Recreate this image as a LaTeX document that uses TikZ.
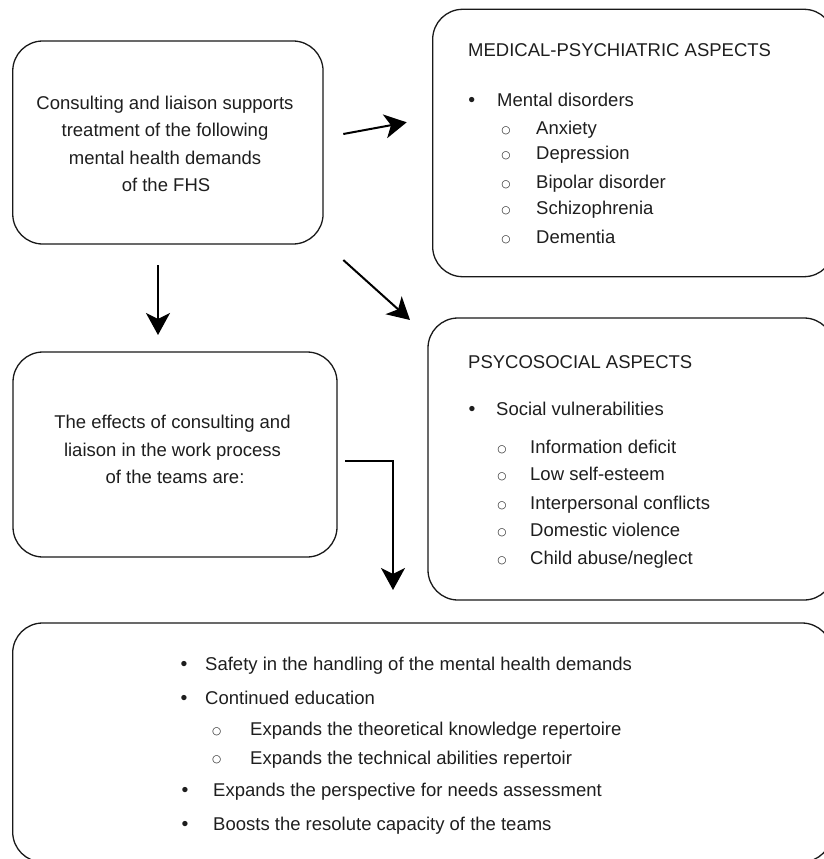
\documentclass[tikz,border=0pt]{standalone}
\usepackage{fontspec}
\setmainfont{Liberation Sans}
\newfontfamily\symf{DejaVu Sans}
\usetikzlibrary{arrows.meta}
\definecolor{txtc}{RGB}{30,30,30}
\definecolor{linec}{RGB}{25,25,25}
\begin{document}
\begin{tikzpicture}[x=1pt,y=-1pt,
  box/.style={draw=linec, line width=1.3pt, rounded corners=30pt, inner sep=0pt, outer sep=0pt},
  t/.style={font=\fontsize{18.5}{22}\selectfont, text=txtc, inner sep=0pt, anchor=base west},
  tc/.style={t, anchor=base},
  bul/.style={tc, font=\fontsize{19.5}{22}\selectfont},
  subb/.style={tc, font=\fontsize{10.5}{12}\selectfont\symf},
  arr/.style={line width=2pt, draw=black, -{Stealth[length=22pt,width=24pt,inset=6pt]}}
]
\useasboundingbox (0,0) rectangle (824,859);
\clip (0,0) rectangle (824,859);

% boxes
\node[box, minimum width=310.3pt, minimum height=203pt] (b1) at (167.9,142.5) {};
\node[box, minimum width=401.3pt, minimum height=267.4pt] (b2) at (633.35,143) {};
\node[box, minimum width=324pt, minimum height=205pt] (b3) at (175,454.5) {};
\node[box, minimum width=406pt, minimum height=282pt] (b4) at (631,459) {};
\node[box, minimum width=819.3pt, minimum height=239pt] (b5) at (422.35,742.5) {};

% top-left text
\node[tc] (c1) at (165,109.5) {Consulting and liaison supports};
\node[tc] (c2) at (165,136.8) {treatment of the following};
\node[tc] (c3) at (165,164.1) {mental health demands};
\node[tc] (c4) at (166,191.4) {of the FHS};

% middle-left text
\node[tc] (e1) at (172.5,428.5) {The effects of consulting and};
\node[tc] (e2) at (172.5,456) {liaison in the work process};
\node[tc] (e3) at (175,483.5) {of the teams are:};

% top-right text
\node[t] (m0) at (468,56.5) {MEDICAL-PSYCHIATRIC ASPECTS};
\node[bul] (mb) at (471.7,106.5) {•};
\node[t] (m1) at (497,106.5) {Mental disorders};
\node[subb] (ms1) at (506,133) {○};
\node[t] (m2) at (536,134.5) {Anxiety};
\node[subb] (ms2) at (506,158) {○};
\node[t] (m3) at (536,159.5) {Depression};
\node[subb] (ms3) at (506,187) {○};
\node[t] (m4) at (536,188.5) {Bipolar disorder};
\node[subb] (ms4) at (506,213) {○};
\node[t] (m5) at (536,214.5) {Schizophrenia};
\node[subb] (ms5) at (506,242) {○};
\node[t] (m6) at (536,243.5) {Dementia};

% middle-right text
\node[t] (p0) at (468,368.5) {PSYCOSOCIAL ASPECTS};
\node[bul] (pb) at (472,415.5) {•};
\node[t] (p1) at (496,415.5) {Social vulnerabilities};
\node[subb] (ps1) at (502,452) {○};
\node[t] (p2) at (530,453.5) {Information deficit};
\node[subb] (ps2) at (502,479) {○};
\node[t] (p3) at (530,480.5) {Low self-esteem};
\node[subb] (ps3) at (502,508) {○};
\node[t] (p4) at (530,509.5) {Interpersonal conflicts};
\node[subb] (ps4) at (502,535) {○};
\node[t] (p5) at (530,536.5) {Domestic violence};
\node[subb] (ps5) at (502,563) {○};
\node[t] (p6) at (530,564.5) {Child abuse/neglect};

% bottom text
\node[bul] (qb1) at (184,670.5) {•};
\node[t] (q1) at (205,670.5) {Safety in the handling of the mental health demands};
\node[bul] (qb2) at (184,704.5) {•};
\node[t] (q2) at (205,704.5) {Continued education};
\node[subb] (qs1) at (216.7,734) {○};
\node[t] (q3) at (250,735.5) {Expands the theoretical knowledge repertoire};
\node[subb] (qs2) at (216.7,762.5) {○};
\node[t] (q4) at (250,764) {Expands the technical abilities repertoir};
\node[bul] (qb3) at (185,796.5) {•};
\node[t] (q5) at (213,796.5) {Expands the perspective for needs assessment};
\node[bul] (qb4) at (185,830) {•};
\node[t] (q6) at (213,830) {Boosts the resolute capacity of the teams};

% connectors
\coordinate (a1s) at (343.3,134);
\coordinate (a1e) at (406.7,122.3);
\coordinate (a2s) at (343.3,260);
\coordinate (a2e) at (410,320);
\coordinate (a3s) at (158,265);
\coordinate (a3e) at (158,335);
\coordinate (a4s) at (345,461);
\coordinate (a4k) at (393,461);
\coordinate (a4e) at (393,590);
\draw[arr] (a1s) -- (a1e);
\draw[arr] (a2s) -- (a2e);
\draw[arr] (a3s) -- (a3e);
\draw[arr] (a4s) -- (a4k) -- (a4e);
\end{tikzpicture}
\end{document}
